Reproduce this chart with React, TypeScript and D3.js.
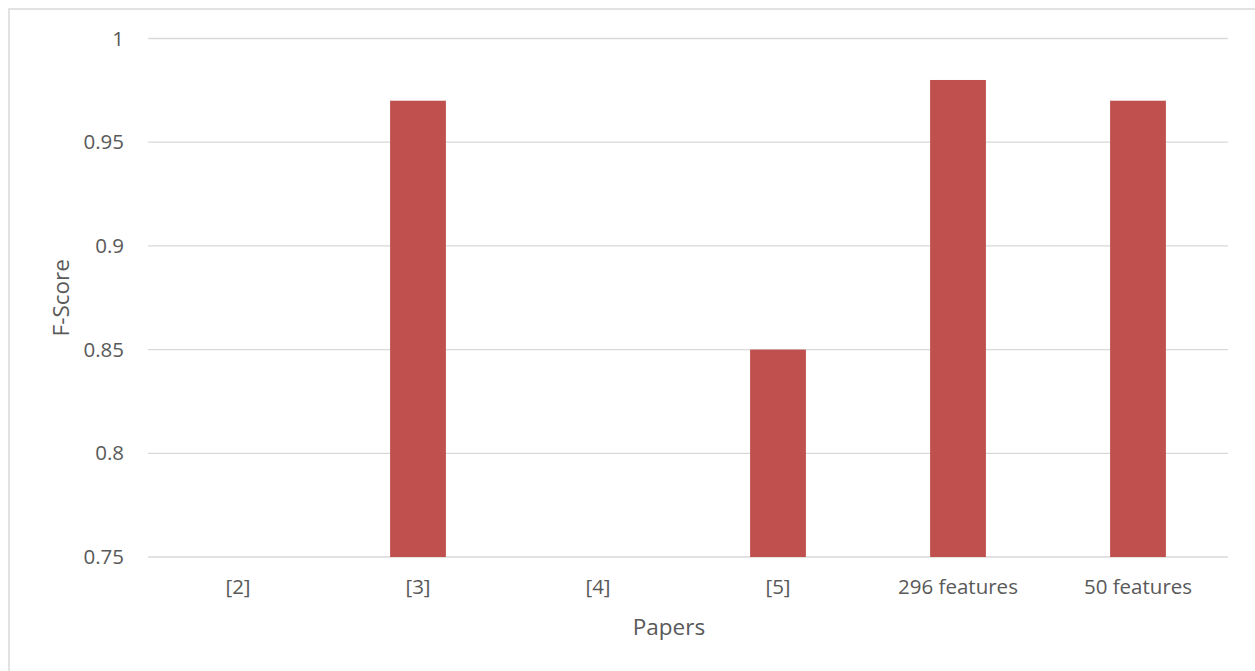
import React from "react";
import * as d3 from "d3";

const categories = ["[2]", "[3]", "[4]", "[5]", "296 features", "50 features"];
const fScores: (number | null)[] = [null, 0.97, null, 0.85, 0.98, 0.97];
const yTicks = [0.75, 0.8, 0.85, 0.9, 0.95, 1];
const yTickLabels = ["0.75", "0.8", "0.85", "0.9", "0.95", "1"];

const W = 1255;
const H = 671;
const plot = { left: 148, right: 1228, top: 38.5, bottom: 557 };
const font = "'Open Sans', Lato, sans-serif";
const textColor = "#595959";

export default function App() {
  const x = d3
    .scaleBand<string>()
    .domain(categories)
    .range([plot.left, plot.right])
    .paddingInner(0.69)
    .paddingOuter(0.345);
  const y = d3.scaleLinear().domain([0.75, 1]).range([plot.bottom, plot.top]);
  const step = (plot.right - plot.left) / categories.length;

  return (
    <svg
      width={W}
      height={H}
      style={{ position: "absolute", left: 0, top: 0 }}
      fontFamily={font}
    >
      <rect x={0} y={0} width={W} height={H} fill="#fff" />
      <rect x={9} y={9} width={W + 10} height={H + 10} fill="none" stroke="#D9D9D9" strokeWidth={1.5} />
      {yTicks.map((t, i) => (
        <g key={t}>
          <line x1={plot.left} x2={plot.right} y1={y(t)} y2={y(t)} stroke="#D9D9D9" strokeWidth={1.3} />
          <text x={124} y={y(t)} dy="0.35em" textAnchor="end" fontSize={20.5} fill={textColor}>
            {yTickLabels[i]}
          </text>
        </g>
      ))}
      {categories.map((c, i) =>
        fScores[i] == null ? null : (
          <rect
            key={c}
            x={x(c)!}
            y={y(fScores[i] as number)}
            width={x.bandwidth()}
            height={plot.bottom - y(fScores[i] as number)}
            fill="#C0504D"
          />
        )
      )}
      {categories.map((c, i) => (
        <text
          key={c}
          x={plot.left + step * (i + 0.5)}
          y={587}
          dy="0.35em"
          textAnchor="middle"
          fontSize={20.5}
          fill={textColor}
        >
          {c}
        </text>
      ))}
      <text x={669} y={627} dy="0.35em" textAnchor="middle" fontSize={22.5} fill={textColor}>
        Papers
      </text>
      <text
        transform={`translate(61, ${(plot.top + plot.bottom) / 2}) rotate(-90)`}
        dy="0.35em"
        textAnchor="middle"
        fontSize={22.5}
        fill={textColor}
      >
        F-Score
      </text>
    </svg>
  );
}
